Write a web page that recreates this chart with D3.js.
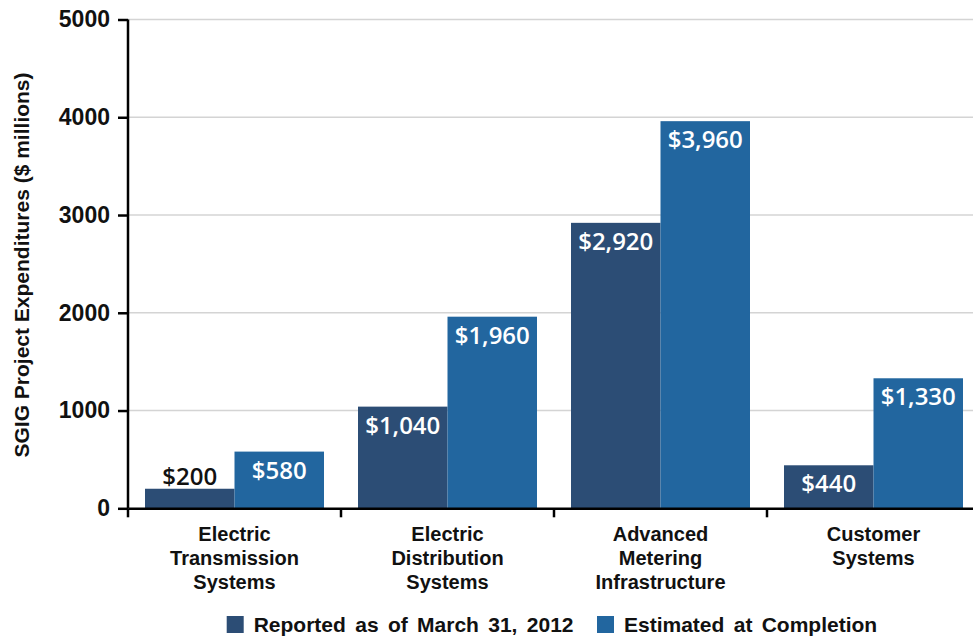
<!DOCTYPE html>
<html>
<head>
<meta charset="utf-8">
<script src="https://cdn.jsdelivr.net/npm/d3@7"></script>
<style>
  body { margin: 0; background: #fff; }
  svg { display: block; }
</style>
</head>
<body>
<svg id="chart" width="973" height="637"></svg>
<script>
const categories = [
  ["Electric", "Transmission", "Systems"],
  ["Electric", "Distribution", "Systems"],
  ["Advanced", "Metering", "Infrastructure"],
  ["Customer", "Systems"]
];
const seriesNames = ["Reported as of March 31, 2012", "Estimated at Completion"];
const reported = [200, 1040, 2920, 440];
const estimated = [580, 1960, 3960, 1330];
const yTicks = [0, 1000, 2000, 3000, 4000, 5000];
const colors = ["#2c4d75", "#22669f"];

const svg = d3.select("#chart");
const mLeft = 128, mRight = 980, mTop = 19.5, mBottom = 508.3;

const x = d3.scaleBand().domain(d3.range(categories.length)).range([mLeft, mRight]).paddingInner(0).paddingOuter(0);
const xInner = d3.scaleBand().domain([0, 1]).range([0, x.bandwidth()]).paddingOuter(0.19);
const y = d3.scaleLinear().domain([0, 5000]).range([mBottom, mTop]);

// gridlines
svg.append("g")
  .selectAll("line")
  .data(yTicks.slice(1))
  .join("line")
  .attr("x1", mLeft).attr("x2", 973)
  .attr("y1", d => y(d)).attr("y2", d => y(d))
  .attr("stroke", "#d4d4d4").attr("stroke-width", 1.5);

const data = categories.map((c, i) => ({ i, vals: [reported[i], estimated[i]] }));

const groups = svg.append("g").selectAll("g")
  .data(data)
  .join("g")
  .attr("transform", d => `translate(${x(d.i)},0)`);

groups.selectAll("rect")
  .data(d => d.vals.map((v, s) => ({ v, s })))
  .join("rect")
  .attr("x", d => xInner(d.s))
  .attr("width", xInner.bandwidth())
  .attr("y", d => y(d.v))
  .attr("height", d => mBottom - y(d.v))
  .attr("fill", d => colors[d.s]);

groups.selectAll("text.val")
  .data(d => d.vals.map((v, s) => ({ v, s })))
  .join("text")
  .attr("class", "val")
  .attr("x", d => xInner(d.s) + xInner.bandwidth() / 2)
  .attr("y", d => (mBottom - y(d.v) < 40) ? y(d.v) - 4 : y(d.v) + 27)
  .attr("text-anchor", "middle")
  .attr("fill", d => (mBottom - y(d.v) < 40) ? "#111" : "#fff")
  .style("font-family", "'Open Sans'")
  .style("font-weight", 600)
  .style("font-size", "24px")
  .text(d => "$" + d3.format(",")(d.v));

// y axis
const yAxis = svg.append("g")
  .attr("transform", `translate(${mLeft},0)`)
  .call(d3.axisLeft(y).tickValues(yTicks).tickSize(10).tickPadding(8).tickFormat(d3.format("d")));
yAxis.select(".domain").attr("d", `M0,${mTop}V${mBottom}`).attr("stroke", "#000").attr("stroke-width", 2.5);
yAxis.selectAll(".tick line").attr("stroke", "#000").attr("stroke-width", 2.5);
yAxis.selectAll(".tick text")
  .attr("fill", "#111")
  .style("font-family", "'Liberation Sans'")
  .style("font-weight", "bold")
  .style("font-size", "23px");

// x axis
const xAxis = svg.append("g")
  .attr("transform", `translate(0,${mBottom})`)
  .call(d3.axisBottom(x).tickValues([]).tickSizeOuter(0));
xAxis.select(".domain").attr("stroke", "#000").attr("stroke-width", 2.5);
xAxis.selectAll("line.sep")
  .data(d3.range(categories.length))
  .join("line")
  .attr("class", "sep")
  .attr("x1", d => x(d)).attr("x2", d => x(d))
  .attr("y1", 0).attr("y2", 9)
  .attr("stroke", "#000").attr("stroke-width", 2.5);

// category labels
const catLabels = svg.append("g").selectAll("text")
  .data(categories)
  .join("text")
  .attr("text-anchor", "middle")
  .attr("fill", "#111")
  .style("font-family", "'Liberation Sans'")
  .style("font-weight", "bold")
  .style("font-size", "20px");
catLabels.selectAll("tspan")
  .data((d, i) => d.map(t => ({ t, i })))
  .join("tspan")
  .attr("x", d => x(d.i) + x.bandwidth() / 2)
  .attr("y", (d, j) => 540.7 + j * 24.2)
  .text(d => d.t);

// y title
svg.append("text")
  .attr("transform", "translate(29,265) rotate(-90)")
  .attr("text-anchor", "middle")
  .attr("fill", "#111")
  .style("font-family", "'Liberation Sans'")
  .style("font-weight", "bold")
  .style("font-size", "21px")
  .text("SGIG Project Expenditures ($ millions)");

// legend
const legendX = [226.7, 597];
const legend = svg.append("g").selectAll("g")
  .data(seriesNames)
  .join("g")
  .attr("transform", (d, i) => `translate(${legendX[i]},616)`);
legend.append("rect")
  .attr("width", 17).attr("height", 17)
  .attr("fill", (d, i) => colors[i]);
legend.append("text")
  .attr("x", 27).attr("y", 16)
  .attr("fill", "#111")
  .style("font-family", "'Liberation Sans'")
  .style("font-weight", "bold")
  .style("font-size", "21px")
  .style("word-spacing", "3.5px")
  .text(d => d);
</script>
</body>
</html>
